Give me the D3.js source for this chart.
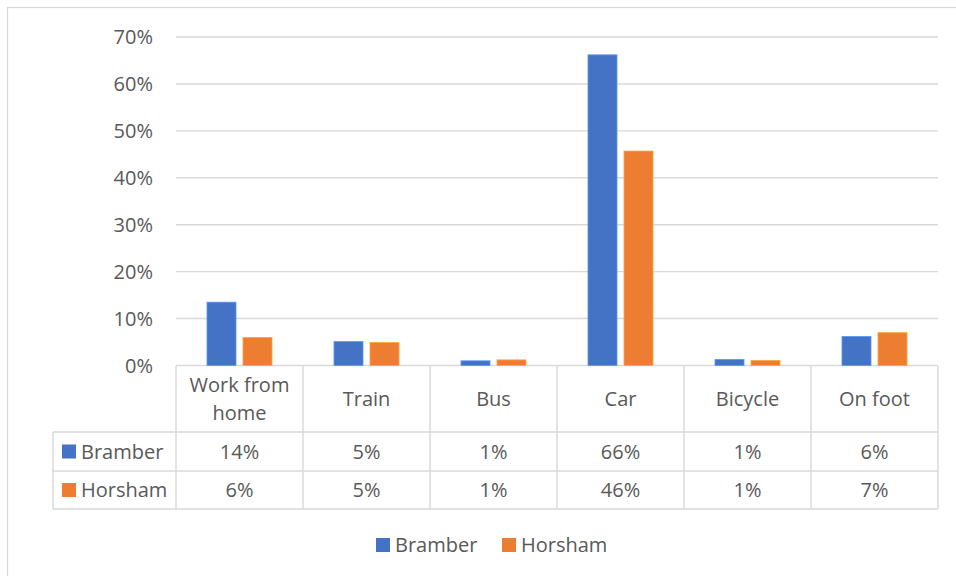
<!DOCTYPE html>
<html>
<head>
<meta charset="utf-8">
<script src="https://cdn.jsdelivr.net/npm/d3@7"></script>
<style>
  html, body { margin: 0; padding: 0; background: #fff; }
  svg { display: block; }
  text { font-family: "Open Sans", "Noto Sans", sans-serif; fill: #595959; }
</style>
</head>
<body>
<svg id="chart" width="956" height="576"></svg>
<script>
// data
var categories = ['Work from home', 'Train', 'Bus', 'Car', 'Bicycle', 'On foot']
var series = ['Bramber', 'Horsham']
var bramber = [13.5, 5.1, 1.0, 66.2, 1.3, 6.2]
var horsham = [6.0, 4.9, 1.2, 45.7, 1.1, 7.0]
var bramberLabels = ['14%', '5%', '1%', '66%', '1%', '6%']
var horshamLabels = ['6%', '5%', '1%', '46%', '1%', '7%']
var yTicks = [0, 10, 20, 30, 40, 50, 60, 70]
var colors = ['#4472C4', '#ED7D31']

var values = [bramber, horsham]
var labels = [bramberLabels, horshamLabels]

var svg = d3.select('#chart')
var gridColor = '#d9d9d9'

// outer chart frame (cropped at right and bottom)
svg.append('rect')
  .attr('x', 7.5).attr('y', 7.5)
  .attr('width', 960).attr('height', 580)
  .attr('fill', 'none')
  .attr('stroke', gridColor)
  .attr('stroke-width', 1.3)

var plotLeft = 176, plotRight = 938
var plotTop = 37, plotBase = 365.5

var x = d3.scaleBand().domain(categories).range([plotLeft, plotRight]).padding(0)
var y = d3.scaleLinear().domain([0, 70]).range([plotBase, plotTop])

var groupW = x.bandwidth() * 0.512
var x1 = d3.scaleBand().domain(series).range([0, groupW]).paddingInner(0.194)

// gridlines
svg.append('g').selectAll('line')
  .data(yTicks)
  .enter().append('line')
  .attr('x1', plotLeft).attr('x2', plotRight)
  .attr('y1', function(d) { return y(d) }).attr('y2', function(d) { return y(d) })
  .attr('stroke', gridColor)
  .attr('stroke-width', 1.4)

// y tick labels
svg.append('g').selectAll('text')
  .data(yTicks)
  .enter().append('text')
  .attr('x', 153)
  .attr('y', function(d) { return y(d) })
  .attr('dy', '0.35em')
  .attr('text-anchor', 'end')
  .style('font-size', '20px')
  .text(function(d) { return d + '%' })

// bars
series.forEach(function(s, si) {
  svg.append('g').selectAll('rect')
    .data(values[si])
    .enter().append('rect')
    .attr('x', function(d, i) {
      return x(categories[i]) + (x.bandwidth() - groupW) / 2 + x1(s)
    })
    .attr('y', function(d) { return y(d) })
    .attr('width', x1.bandwidth())
    .attr('height', function(d) { return plotBase - y(d) })
    .attr('fill', colors[si])
    .attr('stroke', d3.color(colors[si]).brighter(0.8))
    .attr('stroke-width', 0.8)
})

// data table
var rowTop = 366, headBottom = 432
var rowBottoms = [471, 509]
var tableLeft = 53

var t = svg.append('g')
  .attr('stroke', gridColor)
  .attr('stroke-width', 1.4)

// vertical lines of category columns
var bounds = categories.map(function(c) { return x(c) }).concat([plotRight])
t.selectAll('line.v')
  .data(bounds)
  .enter().append('line')
  .attr('x1', function(d) { return d }).attr('x2', function(d) { return d })
  .attr('y1', rowTop).attr('y2', rowBottoms[1])

// left legend column border
t.append('line')
  .attr('x1', tableLeft).attr('x2', tableLeft)
  .attr('y1', headBottom).attr('y2', rowBottoms[1])

// horizontal lines
;[headBottom].concat(rowBottoms).forEach(function(yy) {
  t.append('line')
    .attr('x1', tableLeft).attr('x2', plotRight)
    .attr('y1', yy).attr('y2', yy)
})

// category header text
var headMid = (rowTop + headBottom) / 2
categories.forEach(function(c) {
  var cx = x(c) + x.bandwidth() / 2
  var lines = c === 'Work from home' ? ['Work from', 'home'] : [c]
  lines.forEach(function(line, li) {
    svg.append('text')
      .attr('x', cx)
      .attr('y', headMid + (li - (lines.length - 1) / 2) * 28)
      .attr('dy', '0.35em')
      .attr('text-anchor', 'middle')
      .style('font-size', '20px')
      .text(line)
  })
})

// series rows
var rowMids = [(headBottom + rowBottoms[0]) / 2, (rowBottoms[0] + rowBottoms[1]) / 2]
series.forEach(function(s, si) {
  svg.append('rect')
    .attr('x', 62).attr('y', rowMids[si] - 7)
    .attr('width', 14).attr('height', 14)
    .attr('fill', colors[si])
  svg.append('text')
    .attr('x', 81).attr('y', rowMids[si])
    .attr('dy', '0.35em')
    .style('font-size', '20px')
    .text(s)
  labels[si].forEach(function(lab, i) {
    svg.append('text')
      .attr('x', x(categories[i]) + x.bandwidth() / 2)
      .attr('y', rowMids[si])
      .attr('dy', '0.35em')
      .attr('text-anchor', 'middle')
      .style('font-size', '20px')
      .text(lab)
  })
})

// bottom legend
var legendX = [376, 502]
series.forEach(function(s, si) {
  svg.append('rect')
    .attr('x', legendX[si]).attr('y', 538)
    .attr('width', 14).attr('height', 14)
    .attr('fill', colors[si])
  svg.append('text')
    .attr('x', legendX[si] + 19).attr('y', 545)
    .attr('dy', '0.35em')
    .style('font-size', '20px')
    .text(s)
})
</script>
</body>
</html>
